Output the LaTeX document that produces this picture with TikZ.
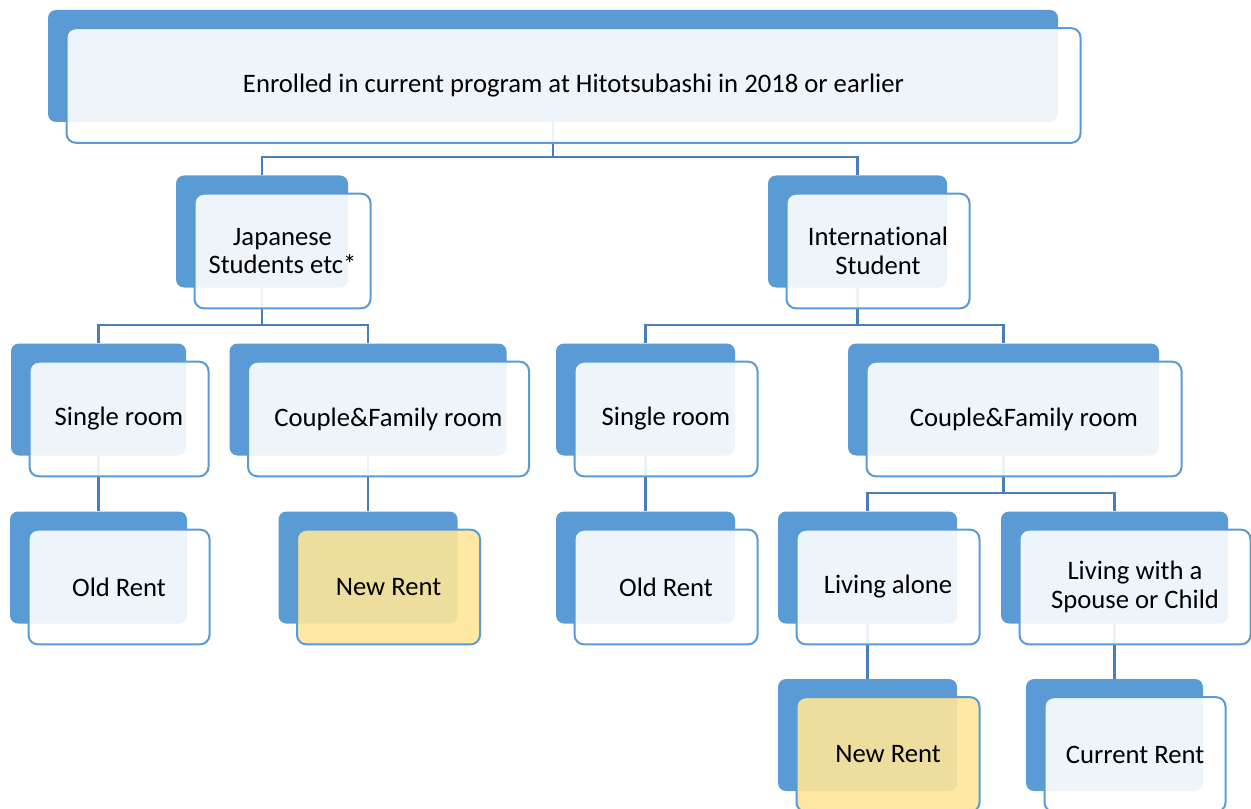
\documentclass[tikz,border=0pt]{standalone}
\usepackage{fontspec}
\setmainfont{Carlito}[Ligatures=CommonOff]
\usetikzlibrary{positioning,backgrounds}

\definecolor{boxblue}{HTML}{5B9BD5}
\definecolor{linkblue}{HTML}{4A7EBB}
\definecolor{rentyellow}{HTML}{FFE699}

\tikzset{
  back/.style={fill=boxblue, rounded corners=6pt, inner sep=0pt, minimum height=84pt},
  front/.style={draw=boxblue, line width=1.5pt, fill opacity=0.9, text opacity=1,
    rounded corners=7pt, inner sep=0pt, minimum height=86pt, align=center,
    font=\fontsize{20}{21.3}\selectfont},
  link/.style={draw=linkblue, line width=1.6pt}
}

% one box: blue card behind, text card in front
\newcommand{\duo}[5][white]{%
  \node[back, minimum width=#4*0.75pt] (#2-b) at (#3) {};
  \node[front, fill=#1, minimum width=#4*0.75pt+3pt] (#2) at ([shift={(20.5,19.5)}]#2-b.center) {#5};}

\begin{document}
\begin{tikzpicture}[x=0.75pt,y=-0.75pt]
\useasboundingbox (0,0) rectangle (1251,809);

\duo{top}{553,66}{1010}{Enrolled in current program at Hitotsubashi in 2018 or earlier}

\duo{jp}{262,231.5}{172}{Japanese\\Students etc*}
\duo{intl}{857.5,231.5}{179}{International\\Student}

\duo{sglL}{98.5,399.5}{175}{Single room}
\duo{cplL}{368,399.5}{277}{Couple\&Family room}
\duo{sglR}{645.5,399.5}{179}{Single room}
\duo{cplR}{1003.5,399.5}{311}{Couple\&Family room}

\duo{oldL}{98.5,567.5}{177}{Old Rent}
\duo[rentyellow]{newL}{368,567.5}{179}{New Rent}
\duo{oldR}{645.5,567.5}{179}{Old Rent}
\duo{alone}{867.5,567.5}{179}{Living alone}
\duo{with}{1114.5,567.5}{227}{Living with a\\Spouse or Child}

\duo[rentyellow]{newR}{867.5,735}{179}{New Rent}
\duo{cur}{1114.5,735}{177}{Current Rent}

\begin{scope}[on background layer]
  \draw[link] (top-b.south) -- ++(0,35) -| (jp-b.north);
  \draw[link] (top-b.south) -- ++(0,35) -| (intl-b.north);
  \draw[link] (jp-b.south) -- ++(0,37) -| (sglL-b.north);
  \draw[link] (jp-b.south) -- ++(0,37) -| (cplL-b.north);
  \draw[link] (intl-b.south) -- ++(0,37) -| (sglR-b.north);
  \draw[link] (intl-b.south) -- ++(0,37) -| (cplR-b.north);
  \draw[link] (sglL-b.south) -- (oldL-b.north);
  \draw[link] (cplL-b.south) -- (newL-b.north);
  \draw[link] (sglR-b.south) -- (oldR-b.north);
  \draw[link] (cplR-b.south) -- ++(0,37) -| (alone-b.north);
  \draw[link] (cplR-b.south) -- ++(0,37) -| (with-b.north);
  \draw[link] (alone-b.south) -- (newR-b.north);
  \draw[link] (with-b.south) -- (cur-b.north);
\end{scope}
\end{tikzpicture}
\end{document}
